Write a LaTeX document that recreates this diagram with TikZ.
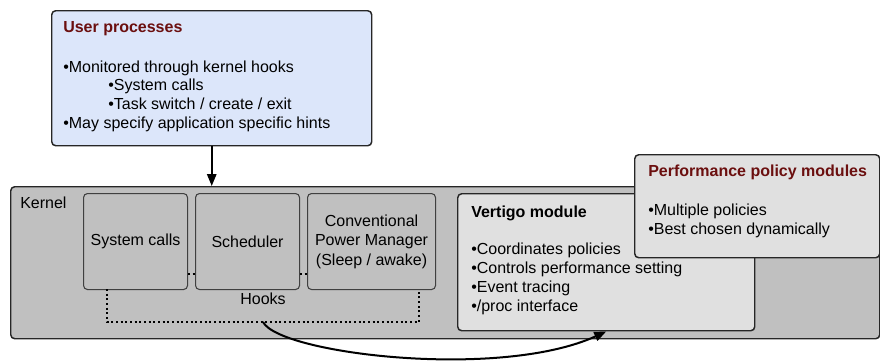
\documentclass[tikz,border=0pt]{standalone}
\usepackage{fontspec}
\setmainfont{Liberation Sans}
\usetikzlibrary{arrows.meta}
\definecolor{userblue}{HTML}{DCE6FA}
\definecolor{kernelgray}{HTML}{C0C0C0}
\definecolor{modgray}{HTML}{E0E0E0}
\definecolor{titlered}{HTML}{6B0F0F}
\tikzset{
  box/.style={draw=black!85,line width=1.1pt,rounded corners=3pt,anchor=north west,inner sep=0pt},
  inbox/.style={draw=black!75,line width=0.8pt,rounded corners=3pt,fill=kernelgray,
    anchor=north west,align=center,inner sep=0pt,minimum height=72pt},
  txt/.style={anchor=base west,inner sep=0pt},
  ttl/.style={txt,font=\fontsize{12pt}{14.5pt}\selectfont\bfseries,text=titlered},
  hook/.style={dotted,line width=1.5pt},
  arr/.style={line width=1.5pt,-{Triangle[length=9pt,width=7pt]}}
}

\begin{document}
\begin{tikzpicture}[x=0.75pt,y=-0.75pt,font=\fontsize{12pt}{14.5pt}\selectfont]
  \useasboundingbox (0,0) rectangle (880,361);

  % user side
  \node[box,fill=userblue,minimum width=240pt,minimum height=101.25pt] (user) at (51,10) {};
  \node[ttl] (usertitle) at (63,32) {User processes};
  \node[txt] (user1) at (63,72) {•Monitored through kernel hooks};
  \node[txt] (user2) at (108,90) {•System calls};
  \node[txt] (user3) at (108,109) {•Task switch / create / exit};
  \node[txt] (user4) at (63,128) {•May specify application specific hints};

  % kernel
  \node[box,fill=kernelgray,minimum width=651.75pt,minimum height=114pt] (kernel) at (10,186) {};
  \node[txt] (kernellabel) at (20,208) {Kernel};
  \draw[arr] (user) -- (user |- kernel.north);

  \node[inbox,minimum width=78pt] (sys) at (83,193) {System calls};
  \node[inbox,minimum width=78pt] (sched) at (195,193) {Scheduler};
  \node[inbox,minimum width=96pt] (cpm) at (307,193) {Conventional\\Power Manager\\(Sleep / awake)};

  % hooks
  \draw[hook] (sys.east |- 0,274) -- (sched.west |- 0,274);
  \draw[hook] (sched.east |- 0,274) -- (cpm.west |- 0,274);
  \coordinate (hookmid) at (263,322);
  \draw[hook] (107,289) -- (107,322) -- (419,322) -- (419,289);
  \node[inner sep=0pt] (hooks) at (263,299) {Hooks};

  % modules
  \node[box,fill=modgray,minimum width=222.75pt,minimum height=102.75pt] (vertigo) at (457,193) {};
  \node[txt,font=\fontsize{12pt}{14.5pt}\selectfont\bfseries] (vertigotitle) at (471,217) {Vertigo module};
  \foreach \t [count=\i] in {Coordinates policies,Controls performance setting,Event tracing,/proc interface}
    \node[txt] (vertigo\i) at (471,235+19*\i) {•\t};

  \node[box,fill=modgray,minimum width=183.75pt,minimum height=77.25pt] (perf) at (634,154) {};
  \node[ttl] (perftitle) at (648,176) {Performance policy modules};
  \node[txt] (perf1) at (648,215) {•Multiple policies};
  \node[txt] (perf2) at (648,234) {•Best chosen dynamically};

  \draw[arr] (hookmid) .. controls (280,354) and (500,380) .. (vertigo.south);
\end{tikzpicture}
\end{document}
